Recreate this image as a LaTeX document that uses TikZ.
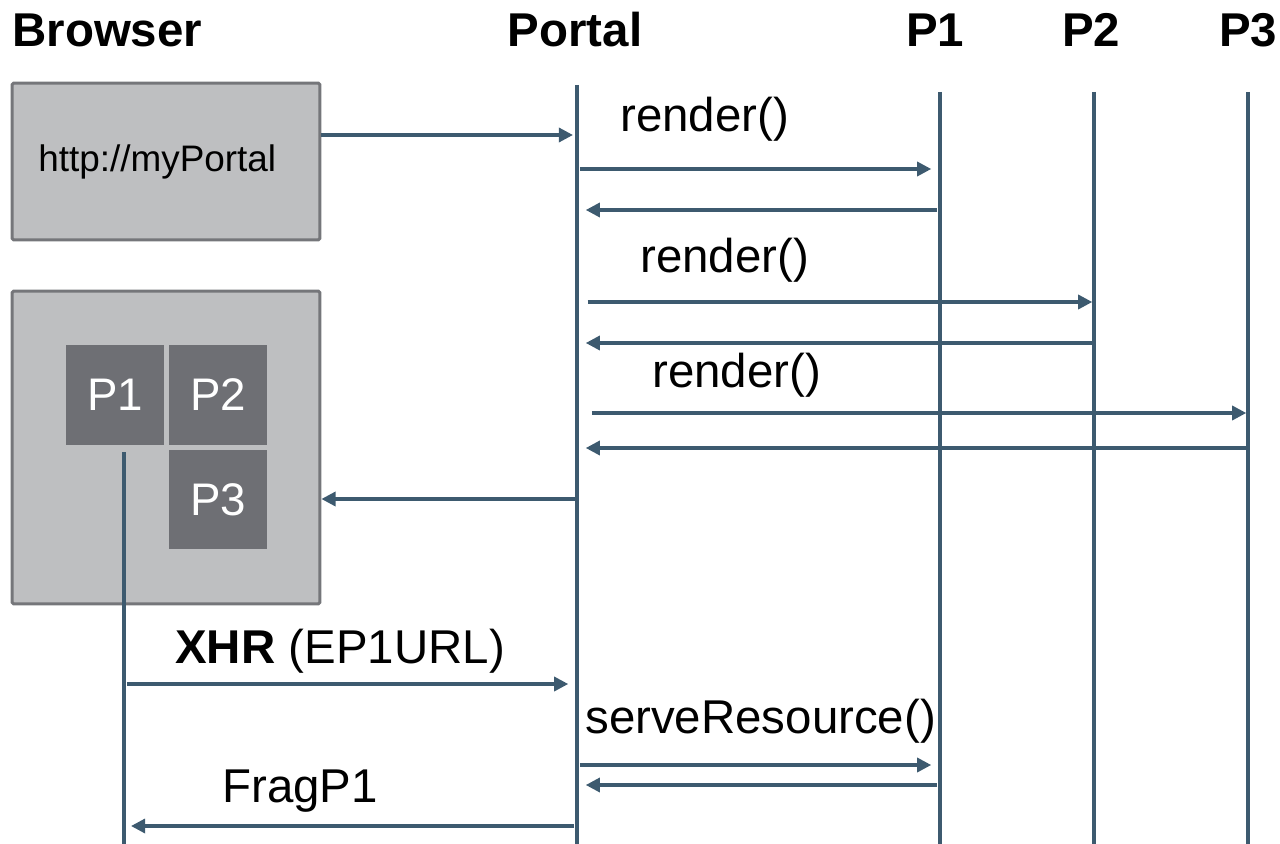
\documentclass[tikz,border=0pt]{standalone}
\usepackage{fontspec}
\setmainfont{Liberation Sans}
\usetikzlibrary{arrows.meta}

\definecolor{lifeblue}{HTML}{3D5A6F}
\definecolor{pagegray}{HTML}{BEBFC1}
\definecolor{pageedge}{HTML}{75767A}
\definecolor{portletgray}{HTML}{6E6F74}

\tikzset{
  head/.style={anchor=base, inner sep=0pt, font=\fontsize{27}{30}\selectfont\bfseries},
  lbl/.style={anchor=base west, inner sep=0pt, font=\fontsize{27}{30}\selectfont},
  lifeline/.style={draw=lifeblue, line width=1.8pt},
  msg/.style={draw=lifeblue, line width=1.8pt, -{Triangle[length=8pt,width=8pt]},
    shorten <=1.7pt, shorten >=5pt},
  pagebox/.style={draw=pageedge, fill=pagegray, line width=1.7pt, rounded corners=1pt,
    minimum width=6.16cm, inner sep=0pt, font=\fontsize{21}{24}\selectfont},
  portlet/.style={fill=portletgray, text=white, minimum width=1.96cm, minimum height=2cm,
    inner sep=0pt, font=\fontsize{26}{30}\selectfont}
}

\begin{document}
\begin{tikzpicture}[x=0.02cm, y=-0.02cm]
\useasboundingbox (0,0) rectangle (1280,844);

% headings
\node[head, anchor=base west] (hBrowser) at (12,47) {Browser};
\node[head] (hPortal) at (575,47) {Portal};
\node[head] (hP1) at (935,47) {P1};
\node[head] (hP2) at (1091,47) {P2};
\node[head] (hP3) at (1248,47) {P3};

% browser pages
\node[pagebox, minimum height=3.14cm] (page1) at (166,161.5) {\hspace*{-10pt}http://myPortal};
\node[pagebox, minimum height=6.26cm] (page2) at (166,447.5) {};
\node[portlet] (wP1) at (115,395) {P1};
\node[portlet] (wP2) at (218,395) {P2};
\node[portlet] (wP3) at (218,499.5) {P3};

% lifelines
\coordinate (lPortal) at (577,85);
\coordinate (lP1) at (940,92);
\coordinate (lP2) at (1094,92);
\coordinate (lP3) at (1248,92);
\coordinate (lFrag) at (124,452);
\foreach \l in {lPortal,lP1,lP2,lP3,lFrag}
  \draw[lifeline] (\l) -- (\l |- 0,844);

% full page request
\draw[msg, shorten <=0pt, shorten >=2.3pt] (page1.east |- 0,135) -- (lPortal |- 0,135);
\node[lbl] (r1) at (620,132) {render()};
\draw[msg] (lPortal |- 0,169) -- (lP1 |- 0,169);
\draw[msg] (lP1 |- 0,210) -- (lPortal |- 0,210);
\node[lbl] (r2) at (640,273) {render()};
\draw[msg, shorten <=6pt, shorten >=1pt] (lPortal |- 0,302) -- (lP2 |- 0,302);
\draw[msg, shorten <=0pt] (lP2 |- 0,343) -- (lPortal |- 0,343);
\node[lbl] (r3) at (652,387) {render()};
\draw[msg, shorten <=8.5pt, shorten >=1pt] (lPortal |- 0,413) -- (lP3 |- 0,413);
\draw[msg, shorten <=-1pt] (lP3 |- 0,448) -- (lPortal |- 0,448);
\draw[msg, shorten <=1pt, shorten >=0pt] (lPortal |- 0,499) -- (page2.east |- 0,499);

% partial refresh
\node[lbl] (xhr) at (175,663) {\textbf{XHR} (EP1URL)};
\draw[msg] (lFrag |- 0,684) -- (lPortal |- 0,684);
\node[lbl] (sres) at (585,733) {serveResource()};
\draw[msg] (lPortal |- 0,765) -- (lP1 |- 0,765);
\draw[msg] (lP1 |- 0,785) -- (lPortal |- 0,785);
\node[lbl] (frag) at (222,802) {FragP1};
\draw[msg, shorten >=4pt] (lPortal |- 0,826) -- (lFrag |- 0,826);
\end{tikzpicture}
\end{document}
